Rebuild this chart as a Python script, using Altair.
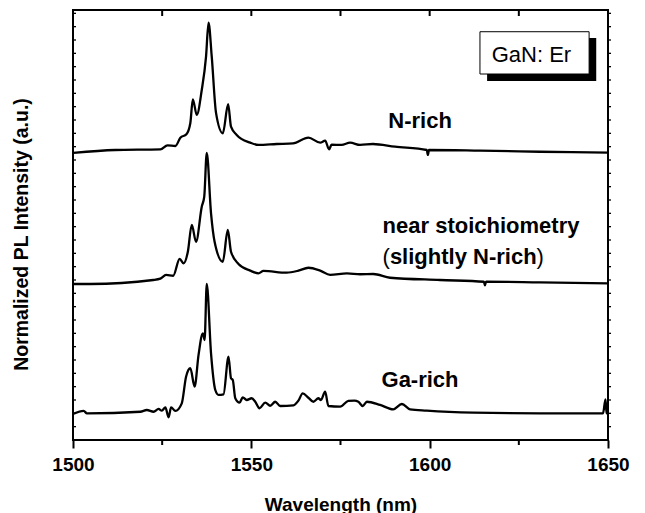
import altair as alt
import pandas as pd

# ---- data (stacked, normalized PL intensity, a.u.) ----
n_rich_wl = [1500.1, 1511.8, 1524.5, 1526.5, 1528.7, 1530.1, 1531.8, 1532.9, 1533.6, 1534.7,
             1536.1, 1537.3, 1538.0, 1538.9, 1540.1, 1542.0, 1543.5, 1544.3, 1545.9, 1549.7,
             1552.0, 1557.1, 1561.7, 1566.0, 1569.3, 1570.7, 1571.8, 1572.5, 1575.3, 1577.7,
             1580.5, 1584.1, 1590.3, 1599.2, 1599.5, 1599.8, 1614.1, 1630.9, 1650.0]
n_rich_y = [2.153, 2.175, 2.180, 2.210, 2.205, 2.267, 2.293, 2.378, 2.555, 2.438,
            2.625, 2.875, 3.130, 2.875, 2.453, 2.300, 2.518, 2.350, 2.288, 2.230,
            2.213, 2.220, 2.225, 2.268, 2.230, 2.245, 2.180, 2.215, 2.213, 2.230,
            2.213, 2.220, 2.200, 2.175, 2.138, 2.175, 2.170, 2.162, 2.155]

stoich_wl = [1500.0, 1504.8, 1522.5, 1524.5, 1526.1, 1528.1, 1529.9, 1531.0, 1532.2, 1533.3,
             1534.5, 1536.1, 1536.8, 1537.5, 1538.7, 1539.7, 1542.0, 1543.4, 1544.3, 1546.4,
             1549.7, 1552.0, 1553.4, 1559.9, 1563.2, 1566.0, 1569.3, 1572.1, 1576.8, 1580.5,
             1584.2, 1588.9, 1602.9, 1615.2, 1615.5, 1615.8, 1630.9, 1650.0]
stoich_y = [1.170, 1.170, 1.200, 1.210, 1.238, 1.232, 1.358, 1.325, 1.412, 1.613,
            1.487, 1.750, 1.825, 2.153, 1.700, 1.487, 1.337, 1.575, 1.412, 1.320,
            1.270, 1.250, 1.268, 1.255, 1.270, 1.292, 1.270, 1.238, 1.250, 1.243,
            1.245, 1.217, 1.200, 1.187, 1.160, 1.187, 1.182, 1.175]

ga_rich_wl = [1500.0, 1503.0, 1503.9, 1518.9, 1520.7, 1522.6, 1524.0, 1524.9, 1525.9, 1526.8,
              1527.5, 1528.7, 1530.5, 1531.7, 1532.9, 1534.1, 1535.2, 1536.4, 1536.9, 1537.5,
              1538.7, 1539.9, 1540.8, 1542.2, 1543.6, 1544.3, 1544.8, 1545.5, 1546.7, 1547.6,
              1548.7, 1550.1, 1551.1, 1552.3, 1553.9, 1555.3, 1556.7, 1558.1, 1561.8, 1563.2,
              1564.4, 1566.0, 1567.4, 1568.8, 1569.5, 1570.7, 1571.6, 1574.9, 1577.2, 1578.9,
              1580.0, 1581.2, 1582.4, 1586.1, 1589.8, 1592.2, 1594.5, 1599.2, 1612.2, 1630.9,
              1648.6, 1649.3, 1649.6, 1650.0]
ga_rich_y = [0.195, 0.218, 0.200, 0.212, 0.225, 0.212, 0.233, 0.220, 0.245, 0.170,
             0.245, 0.218, 0.275, 0.475, 0.538, 0.400, 0.638, 0.800, 0.750, 1.170,
             0.650, 0.375, 0.338, 0.343, 0.625, 0.463, 0.450, 0.313, 0.280, 0.320,
             0.300, 0.313, 0.287, 0.238, 0.280, 0.257, 0.287, 0.255, 0.260, 0.295,
             0.350, 0.317, 0.287, 0.313, 0.300, 0.362, 0.255, 0.250, 0.293, 0.295,
             0.287, 0.255, 0.287, 0.263, 0.230, 0.270, 0.230, 0.220, 0.205, 0.200,
             0.200, 0.305, 0.200, 0.200]

x_major = [1500, 1550, 1600, 1650]
x_minor = [1525, 1575, 1625]
x_top = [1525, 1550, 1575, 1600, 1625]
y_ticks = [round(0.1 * k, 1) for k in range(1, 33)]

bold_labels = ["N-rich", "near stoichiometry", "slightly N-rich", "Ga-rich"]
bold_x = [1588.4, 1586.8, 1586.8, 1586.5]
bold_y = [2.342, 1.550, 1.320, 0.395]
bold_dx = [0, 0, 7.3, 0]

paren_labels = ["(", ")"]
paren_x = [1586.8, 1586.8]
paren_y = [1.320, 1.320]
paren_dx = [0, 154.0]

box_label = "GaN: Er"
box_label_x, box_label_y = 1617.4, 2.837
box_x, box_x2, box_y, box_y2 = 1614.1, 1644.7, 2.745, 3.062
shadow_x, shadow_x2, shadow_y, shadow_y2 = 1616.1, 1646.7, 2.693, 3.015

FONT = "Liberation Sans"

# ---- tables ----
spectra = pd.concat([
    pd.DataFrame({"wl": n_rich_wl, "y": n_rich_y, "series": "N-rich"}),
    pd.DataFrame({"wl": stoich_wl, "y": stoich_y, "series": "near stoichiometry"}),
    pd.DataFrame({"wl": ga_rich_wl, "y": ga_rich_y, "series": "Ga-rich"}),
], ignore_index=True)

xs = alt.Scale(domain=[1500, 1650], nice=False, zero=False)
ys = alt.Scale(domain=[0, 3.225], nice=False, zero=False)

x_axis = alt.Axis(values=x_major, format="d", labelFont=FONT, labelFontSize=19,
                  labelFontWeight="bold", labelColor="black", labelFlush=False,
                  labelPadding=7, tickSize=8, tickWidth=2, tickColor="black",
                  domain=False, grid=False, title="Wavelength (nm)", titleFont=FONT,
                  titleFontSize=19, titleFontWeight="bold", titleColor="black",
                  titleBaseline="alphabetic", titleY=70)
y_axis = alt.Axis(labels=False, ticks=False, domain=False, grid=False,
                  title="Normalized PL Intensity (a.u.)", titleFont=FONT, titleFontSize=19.5,
                  titleFontWeight="bold", titleColor="black", titleAngle=270,
                  titleBaseline="alphabetic", titleAlign="center", titleX=-46, titleY=224)


def X(field):
    return alt.X(field, scale=xs, axis=x_axis)


def Y(field):
    return alt.Y(field, scale=ys, axis=y_axis)


lines = alt.Chart(spectra).mark_line(color="black", strokeWidth=2.3, interpolate="monotone",
                                     clip=True).encode(
    x=X("wl:Q"), y=Y("y:Q"), detail="series:N")

top_ticks = alt.Chart(pd.DataFrame({"v": x_top})).mark_rule(color="black", strokeWidth=2).encode(
    x=X("v:Q"), y=alt.value(0), y2=alt.value(6))
bottom_minor = alt.Chart(pd.DataFrame({"v": x_minor})).mark_rule(color="black", strokeWidth=2).encode(
    x=X("v:Q"), y=alt.value(430), y2=alt.value(435))
left_ticks = alt.Chart(pd.DataFrame({"v": y_ticks})).mark_rule(color="black", strokeWidth=1.3).encode(
    y=Y("v:Q"), x=alt.value(0), x2=alt.value(3))
right_ticks = alt.Chart(pd.DataFrame({"v": y_ticks})).mark_rule(color="black", strokeWidth=1.3).encode(
    y=Y("v:Q"), x=alt.value(535), x2=alt.value(538))

shadow = alt.Chart(pd.DataFrame({"x": [shadow_x], "x2": [shadow_x2], "y": [shadow_y], "y2": [shadow_y2]})
                   ).mark_rect(color="black").encode(
    x=X("x:Q"), x2="x2:Q", y=Y("y:Q"), y2="y2:Q")
box = alt.Chart(pd.DataFrame({"x": [box_x], "x2": [box_x2], "y": [box_y], "y2": [box_y2]})
                ).mark_rect(fill="white", stroke="black", strokeWidth=1).encode(
    x=X("x:Q"), x2="x2:Q", y=Y("y:Q"), y2="y2:Q")
box_text = alt.Chart(pd.DataFrame({"x": [box_label_x], "y": [box_label_y], "t": [box_label]})
                     ).mark_text(align="left", baseline="alphabetic", font=FONT, fontSize=22,
                                 color="black").encode(
    x=X("x:Q"), y=Y("y:Q"), text="t:N")

bold_df = pd.DataFrame({"x": bold_x, "y": bold_y, "t": bold_labels})
bold_layers = [
    alt.Chart(bold_df.iloc[[i]]).mark_text(align="left", baseline="alphabetic", font=FONT,
                                            fontSize=22, fontWeight="bold", color="black",
                                            dx=float(bold_dx[i])).encode(
        x=X("x:Q"), y=Y("y:Q"), text="t:N")
    for i in range(len(bold_labels))
]
paren_df = pd.DataFrame({"x": paren_x, "y": paren_y, "t": paren_labels})
paren_layers = [
    alt.Chart(paren_df.iloc[[i]]).mark_text(align="left", baseline="alphabetic", font=FONT,
                                             fontSize=22, color="black",
                                             dx=float(paren_dx[i])).encode(
        x=X("x:Q"), y=Y("y:Q"), text="t:N")
    for i in range(len(paren_labels))
]

chart = alt.layer(
    lines, top_ticks, bottom_minor, left_ticks, right_ticks, shadow, box, box_text,
    *bold_layers, *paren_layers
).properties(
    width=535, height=430, autosize=alt.AutoSizeParams(type="none"),
    padding={"left": 65, "top": 2, "right": 29, "bottom": 73},
    background="white",
).configure_view(stroke="black", strokeWidth=2)

chart.save("out.html", embed_options={"renderer": "svg", "actions": False})
